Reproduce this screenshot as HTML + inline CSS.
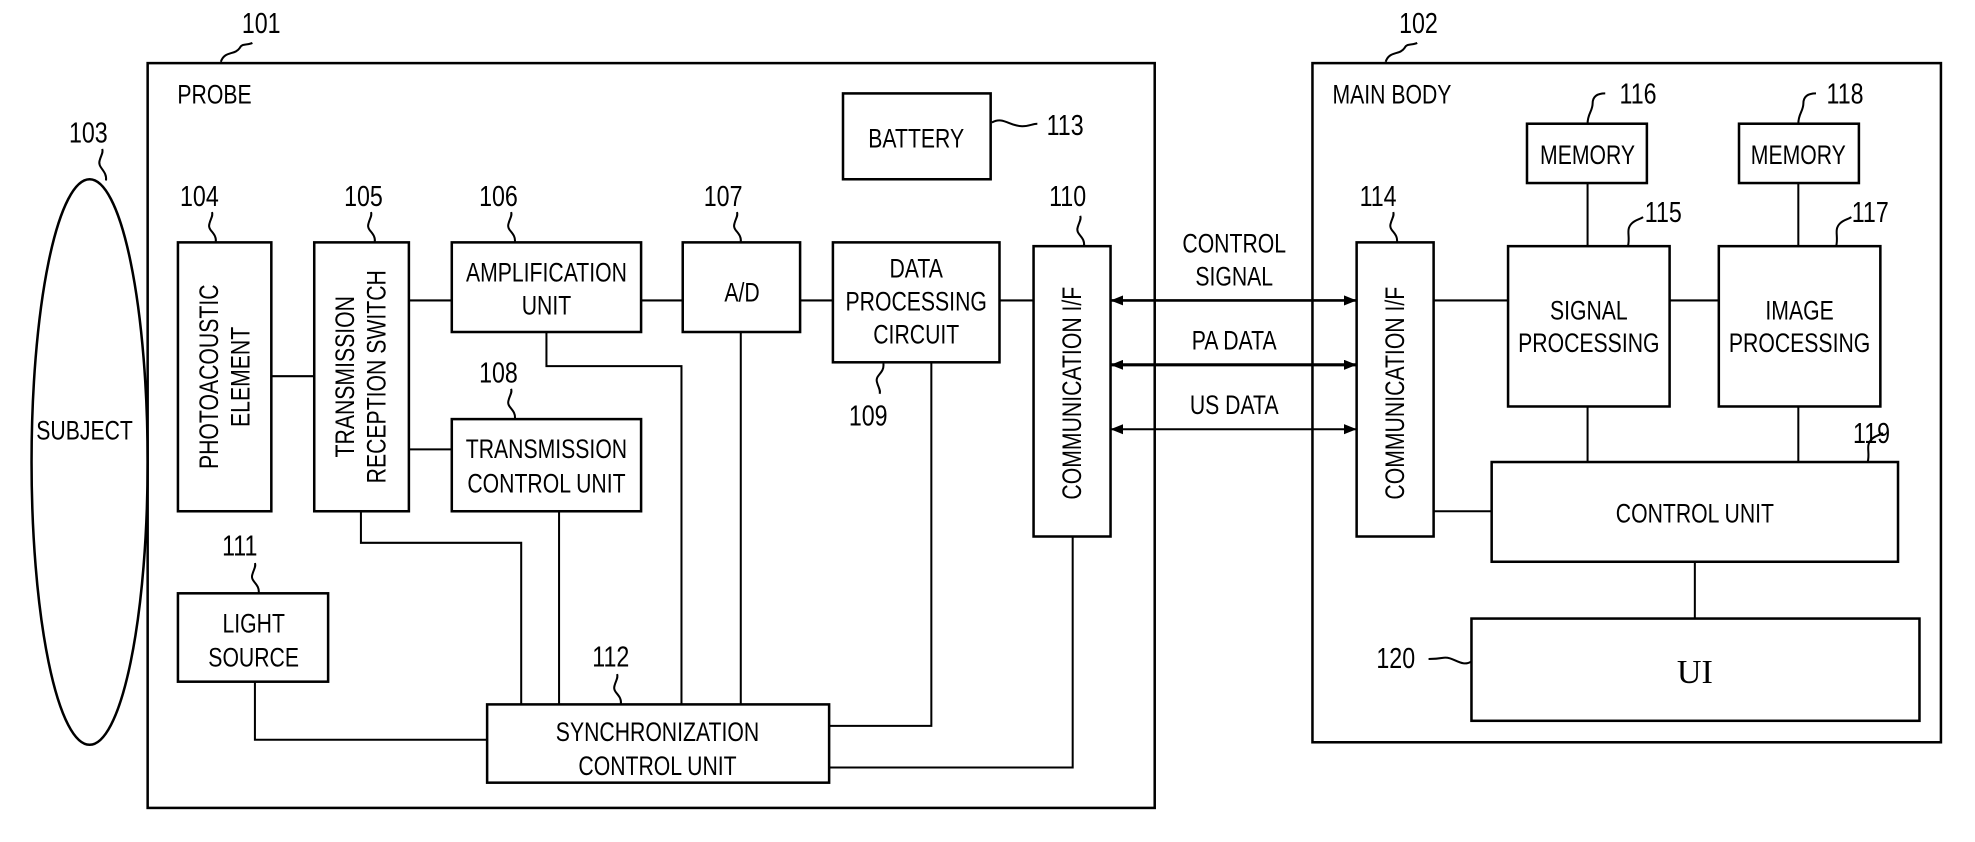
<!DOCTYPE html>
<html><head><meta charset="utf-8"><style>
html,body{margin:0;padding:0;background:#fff;}
svg{display:block;}
text{font-family:"Liberation Sans Narrow","Liberation Sans",sans-serif;fill:#000;}
.n text{transform-box:fill-box;transform-origin:center;transform:scaleX(0.8);}
.n text.r{transform:rotate(-90deg) scaleX(0.8);}
</style></head><body>
<svg width="1975" height="842" viewBox="0 0 1565 667" preserveAspectRatio="none" xmlns="http://www.w3.org/2000/svg">
<defs>
<marker id="ah" markerWidth="10" markerHeight="8" refX="10" refY="4" orient="auto-start-reverse" markerUnits="userSpaceOnUse">
<path d="M0,0 L10,4 L0,8 z" fill="#000"/>
</marker>
</defs>
<g fill="none" stroke="#000" stroke-width="2">
<rect x="117" y="50" width="798" height="590"/>
<rect x="1040" y="50" width="498" height="538"/>
<ellipse cx="71" cy="366" rx="46" ry="224"/>
<rect x="141" y="192" width="74" height="213"/>
<rect x="249" y="192" width="75" height="213"/>
<rect x="358" y="192" width="150" height="71"/>
<rect x="541" y="192" width="93" height="71"/>
<rect x="660" y="192" width="132" height="95"/>
<rect x="819" y="195" width="61" height="230"/>
<rect x="668" y="74" width="117" height="68"/>
<rect x="358" y="332" width="150" height="73"/>
<rect x="141" y="470" width="119" height="70"/>
<rect x="386" y="558" width="271" height="62"/>
<rect x="1075" y="192" width="61" height="233"/>
<rect x="1195" y="195" width="128" height="127"/>
<rect x="1210" y="98" width="95" height="47"/>
<rect x="1362" y="195" width="128" height="127"/>
<rect x="1378" y="98" width="95" height="47"/>
<rect x="1182" y="366" width="322" height="79"/>
<rect x="1166" y="490" width="355" height="81"/>
</g>
<g fill="none" stroke="#000" stroke-width="1.6">
<path d="M215,298H249"/>
<path d="M324,238H358"/>
<path d="M324,356H358"/>
<path d="M508,238H541"/>
<path d="M634,238H660"/>
<path d="M792,238H819"/>
<path d="M286,405V430H413V558"/>
<path d="M443,405V558"/>
<path d="M433,263V290H540V558"/>
<path d="M587,263V558"/>
<path d="M738,287V575H657"/>
<path d="M850,425V608H657"/>
<path d="M202,540V586H386"/>
<path d="M1136,238H1195"/>
<path d="M1323,238H1362"/>
<path d="M1258,145V195"/>
<path d="M1425,145V195"/>
<path d="M1258,322V366"/>
<path d="M1425,322V366"/>
<path d="M1136,405H1182"/>
<path d="M1343,445V490"/>
<path d="M880,238H1075" marker-start="url(#ah)" marker-end="url(#ah)" stroke-width="2"/>
<path d="M880,289H1075" marker-start="url(#ah)" marker-end="url(#ah)" stroke-width="2.4"/>
<path d="M880,340H1075" marker-start="url(#ah)" marker-end="url(#ah)" stroke-width="1.6"/>
<path d="M175,49 C178,40 186,44 190,38 C192,34 196,36 200,34"/>
<path d="M1098,49 C1101,40 1109,44 1113,38 C1115,34 1119,36 1123,34"/>
<path d="M84,143 C85,135 77,133 79,127 C80,123 82,121 81,118"/>
<path d="M171,192 C172,184 164,183 166,177 C167,173 169,171 168,168"/>
<path d="M297,192 C298,184 290,183 292,177 C293,173 295,171 294,168"/>
<path d="M408,192 C409,184 401,183 403,177 C404,173 406,171 405,168"/>
<path d="M587,192 C588,184 580,183 582,177 C583,173 585,171 584,168"/>
<path d="M859,195 C860,187 852,186 854,180 C855,176 857,174 856,171"/>
<path d="M408,332 C409,324 401,323 403,317 C404,313 406,311 405,308"/>
<path d="M205,470 C206,462 198,461 200,455 C201,451 203,449 202,446"/>
<path d="M492,558 C493,550 485,549 487,543 C488,539 490,537 489,534"/>
<path d="M700,288 C701,296 693,297 695,303 C696,307 698,309 697,312"/>
<path d="M786,97 C795,92 800,100 810,100 C816,100 818,98 822,98"/>
<path d="M1107,192 C1108,184 1100,183 1102,177 C1103,173 1105,171 1104,168"/>
<path d="M1258,98 C1258,90 1262,88 1262,82 C1262,76 1266,74 1272,74"/>
<path d="M1425,98 C1425,90 1429,88 1429,82 C1429,76 1433,74 1439,74"/>
<path d="M1290,195 C1292,187 1288,182 1293,177 C1296,174 1299,174 1302,172"/>
<path d="M1455,195 C1457,187 1453,182 1458,177 C1461,174 1464,174 1467,172"/>
<path d="M1480,366 C1482,358 1478,353 1483,348 C1486,345 1489,345 1492,343"/>
<path d="M1166,524 C1158,529 1152,520 1144,521 C1138,522 1135,522 1132,522"/>
</g>
<g class="n" font-size="23" text-anchor="middle">
<text x="207" y="26">101</text>
<text x="1124" y="26">102</text>
<text x="70" y="113">103</text>
<text x="158" y="163">104</text>
<text x="288" y="163">105</text>
<text x="395" y="163">106</text>
<text x="573" y="163">107</text>
<text x="395" y="303">108</text>
<text x="688" y="337">109</text>
<text x="846" y="163">110</text>
<text x="190" y="440">111</text>
<text x="484" y="528">112</text>
<text x="844" y="107">113</text>
<text x="1092" y="163">114</text>
<text x="1318" y="176">115</text>
<text x="1298" y="82">116</text>
<text x="1482" y="176">117</text>
<text x="1462" y="82">118</text>
<text x="1483" y="351">119</text>
<text x="1106" y="529">120</text>
</g>
<g class="n" font-size="21" text-anchor="middle">
<text x="170" y="82">PROBE</text>
<text x="1103" y="82">MAIN BODY</text>
<text x="67" y="348">SUBJECT</text>
<text x="726" y="117">BATTERY</text>
<text x="433" y="223">AMPLIFICATION</text>
<text x="433" y="249">UNIT</text>
<text x="588" y="239">A/D</text>
<text x="726" y="220">DATA</text>
<text x="726" y="246">PROCESSING</text>
<text x="726" y="272">CIRCUIT</text>
<text x="433" y="363">TRANSMISSION</text>
<text x="433" y="390">CONTROL UNIT</text>
<text x="201" y="501">LIGHT</text>
<text x="201" y="528">SOURCE</text>
<text x="521" y="587">SYNCHRONIZATION</text>
<text x="521" y="614">CONTROL UNIT</text>
<text x="978" y="200">CONTROL</text>
<text x="978" y="226">SIGNAL</text>
<text x="978" y="277">PA DATA</text>
<text x="978" y="328">US DATA</text>
<text x="1258" y="130">MEMORY</text>
<text x="1425" y="130">MEMORY</text>
<text x="1259" y="253">SIGNAL</text>
<text x="1259" y="279">PROCESSING</text>
<text x="1426" y="253">IMAGE</text>
<text x="1426" y="279">PROCESSING</text>
<text x="1343" y="414">CONTROL UNIT</text>
<text class="r" x="166" y="305">PHOTOACOUSTIC</text>
<text class="r" x="191" y="305">ELEMENT</text>
<text class="r" x="274" y="305">TRANSMISSION</text>
<text class="r" x="299" y="305">RECEPTION SWITCH</text>
<text class="r" x="850" y="318">COMMUNICATION I/F</text>
<text class="r" x="1106" y="318">COMMUNICATION I/F</text>
</g>
<text x="1343" y="541" font-size="27" text-anchor="middle" style="font-family:'Liberation Serif',serif">UI</text>
</svg>
</body></html>
